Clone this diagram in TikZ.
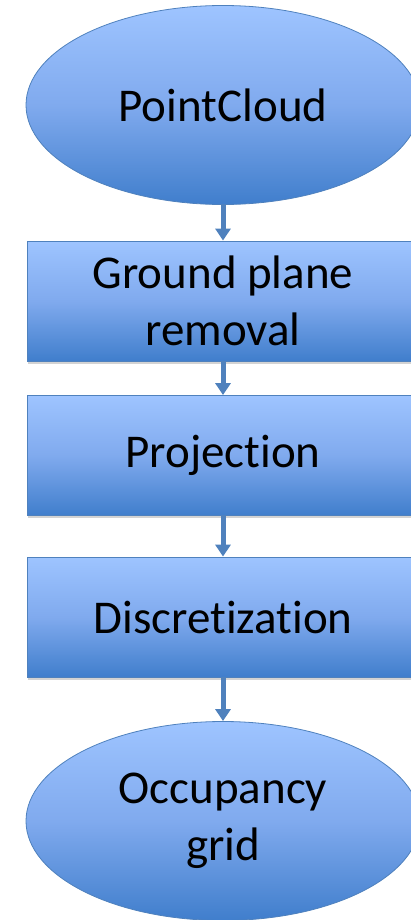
\documentclass[tikz,border=0pt]{standalone}
\usepackage{fontspec}
\setmainfont[Ligatures=NoCommon]{Carlito}
\usetikzlibrary{shapes.geometric,arrows.meta,shadows}

\definecolor{fillTop}{RGB}{158,196,255}
\definecolor{fillMid}{RGB}{128,170,238}
\definecolor{fillBot}{RGB}{64,126,204}
\definecolor{edgeBlue}{RGB}{79,129,189}

\tikzset{
  flowshade/.style={top color=fillTop, bottom color=fillBot, middle color=fillMid,
    draw=edgeBlue, line width=0.8pt, inner sep=0pt, text=black,
    font=\fontsize{47}{57}\selectfont, align=center},
  terminal/.style={flowshade, ellipse, minimum width=394pt, minimum height=199pt},
  process/.style={flowshade, rectangle, minimum width=392pt, minimum height=120pt,
    drop shadow={opacity=0.35, shadow xshift=1pt, shadow yshift=-2.5pt}},
  flowarrow/.style={draw=edgeBlue, line width=5pt,
    -{Triangle[width=15pt,length=12pt]}, color=edgeBlue}
}

\begin{document}
\begin{tikzpicture}[x=1pt,y=-1pt]
  \useasboundingbox (0,0) rectangle (411,920);

  \node[terminal] (cloud) at (223,105) {PointCloud};
  \node[process]  (ground) at (223,301) {Ground plane\\removal};
  \node[process]  (proj) at (223,455.5) {Projection};
  \node[process]  (disc) at (223,617) {Discretization};
  \node[terminal] (grid) at (223,821) {Occupancy\\grid};

  \draw[flowarrow] (cloud) -- (ground);
  \draw[flowarrow] (ground) -- (proj);
  \draw[flowarrow] (proj) -- (disc);
  \draw[flowarrow] (disc) -- (grid);
\end{tikzpicture}
\end{document}
